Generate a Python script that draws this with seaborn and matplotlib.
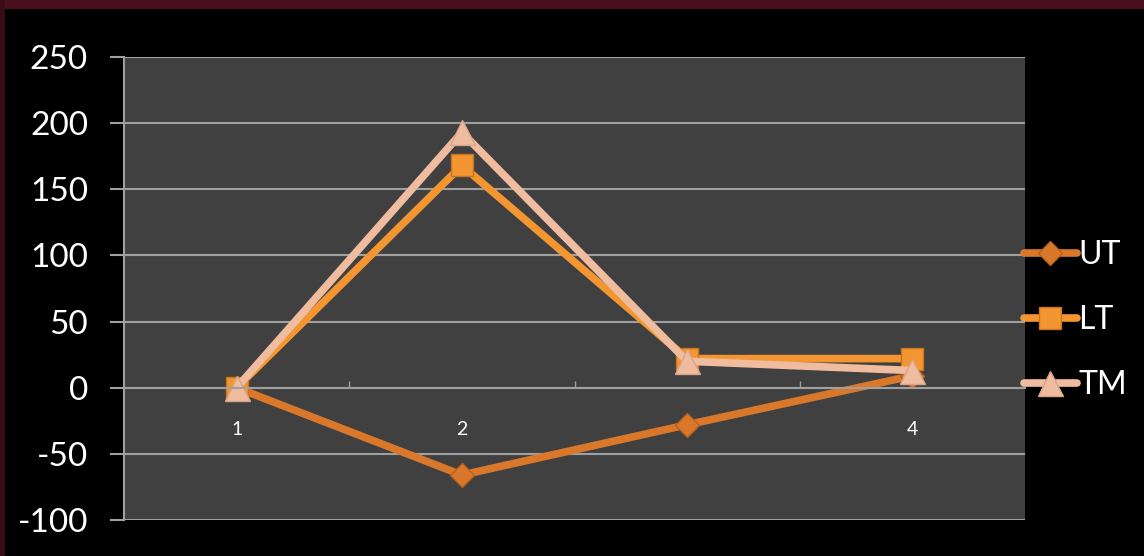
import matplotlib
matplotlib.use("Agg")
import matplotlib.pyplot as plt
import matplotlib.patches as mpatches
from matplotlib.lines import Line2D
from matplotlib.ticker import FixedLocator
import seaborn as sns
import pandas as pd

categories = ["1", "2", "3", "4"]
ut = [0, -66, -28, 9]
lt = [0, 168, 22, 22]
tm = [0, 193, 20, 13]
series_names = ["UT", "LT", "TM"]
y_ticks = [-100, -50, 0, 50, 100, 150, 200, 250]

df = pd.DataFrame({
    "cat": categories * 3,
    "value": ut + lt + tm,
    "series": ["UT"] * 4 + ["LT"] * 4 + ["TM"] * 4,
})

colors = {"UT": "#d9772b", "LT": "#f39530", "TM": "#f0bca0"}
edges = {"UT": "#b85f1c", "LT": "#c87420", "TM": "#d8a48a"}
markers = {"UT": "D", "LT": "s", "TM": "^"}
msizes = {"UT": 12, "LT": 16, "TM": 18}

sns.set_theme(style="dark")
plt.rcParams["font.family"] = ["Lato", "DejaVu Sans"]
plt.rcParams["axes.unicode_minus"] = False

fig = plt.figure(figsize=(11.44, 5.56), dpi=100, facecolor="black")
ax = fig.add_axes([124 / 1144, 1 - 520 / 556, (1025 - 124) / 1144, (520 - 57) / 556])
ax.set_facecolor("#404040")

# reddish textured border approximation
fig.patches.append(mpatches.Rectangle((0, 1 - 9 / 556), 1, 9 / 556, transform=fig.transFigure,
                                      facecolor="#4a0f1e", edgecolor="none", zorder=0))
fig.patches.append(mpatches.Rectangle((0, 0), 5 / 1144, 1, transform=fig.transFigure,
                                      facecolor="#3a0c18", edgecolor="none", zorder=0))

for name in series_names:
    sub = df[df["series"] == name]
    sns.pointplot(data=sub, x="cat", y="value", order=categories, ax=ax,
                  color=colors[name], markers=markers[name], linestyles="-",
                  errorbar=None, linewidth=5.5, markersize=msizes[name],
                  markeredgecolor=edges[name], markeredgewidth=1)

ax.set_xlim(-0.5, len(categories) - 0.5)
ax.set_ylim(-100, 250)
ax.yaxis.set_major_locator(FixedLocator(y_ticks))
ax.grid(axis="y", color="#a0a0a0", linewidth=1.5)
ax.grid(axis="x", visible=False)
ax.set_axisbelow(True)
ax.set_xlabel("")
ax.set_ylabel("")

for s in ["top", "right"]:
    ax.spines[s].set_visible(False)
ax.spines["left"].set_color("#a0a0a0")
ax.spines["left"].set_linewidth(1.5)
ax.spines["bottom"].set_position(("data", 0))
ax.spines["bottom"].set_color("#a0a0a0")
ax.spines["bottom"].set_linewidth(1.5)

ax.tick_params(axis="y", colors="#a0a0a0", labelcolor="white", labelsize=24,
               length=10, width=1.5, direction="out", pad=16, left=True)
ax.xaxis.set_minor_locator(FixedLocator([0.5, 1.5, 2.5]))
ax.tick_params(axis="x", which="major", length=0, labelcolor="white", labelsize=14, pad=24)
ax.tick_params(axis="x", which="minor", length=5, width=1, color="#a0a0a0", direction="in", bottom=True)

handles = [Line2D([0], [0], color=colors[n], lw=5.5, marker=markers[n],
                  markersize=msizes[n], markerfacecolor=colors[n],
                  markeredgecolor=edges[n]) for n in series_names]
leg = fig.legend(handles, series_names, loc="center left",
                 bbox_to_anchor=(1024 / 1144, 1 - 320 / 556), frameon=False,
                 fontsize=23, handlelength=1.65, handletextpad=0.05,
                 labelspacing=1.09, borderaxespad=0, borderpad=0)
for t in leg.get_texts():
    t.set_color("white")

fig.savefig("out.png", dpi=100, facecolor="black")
